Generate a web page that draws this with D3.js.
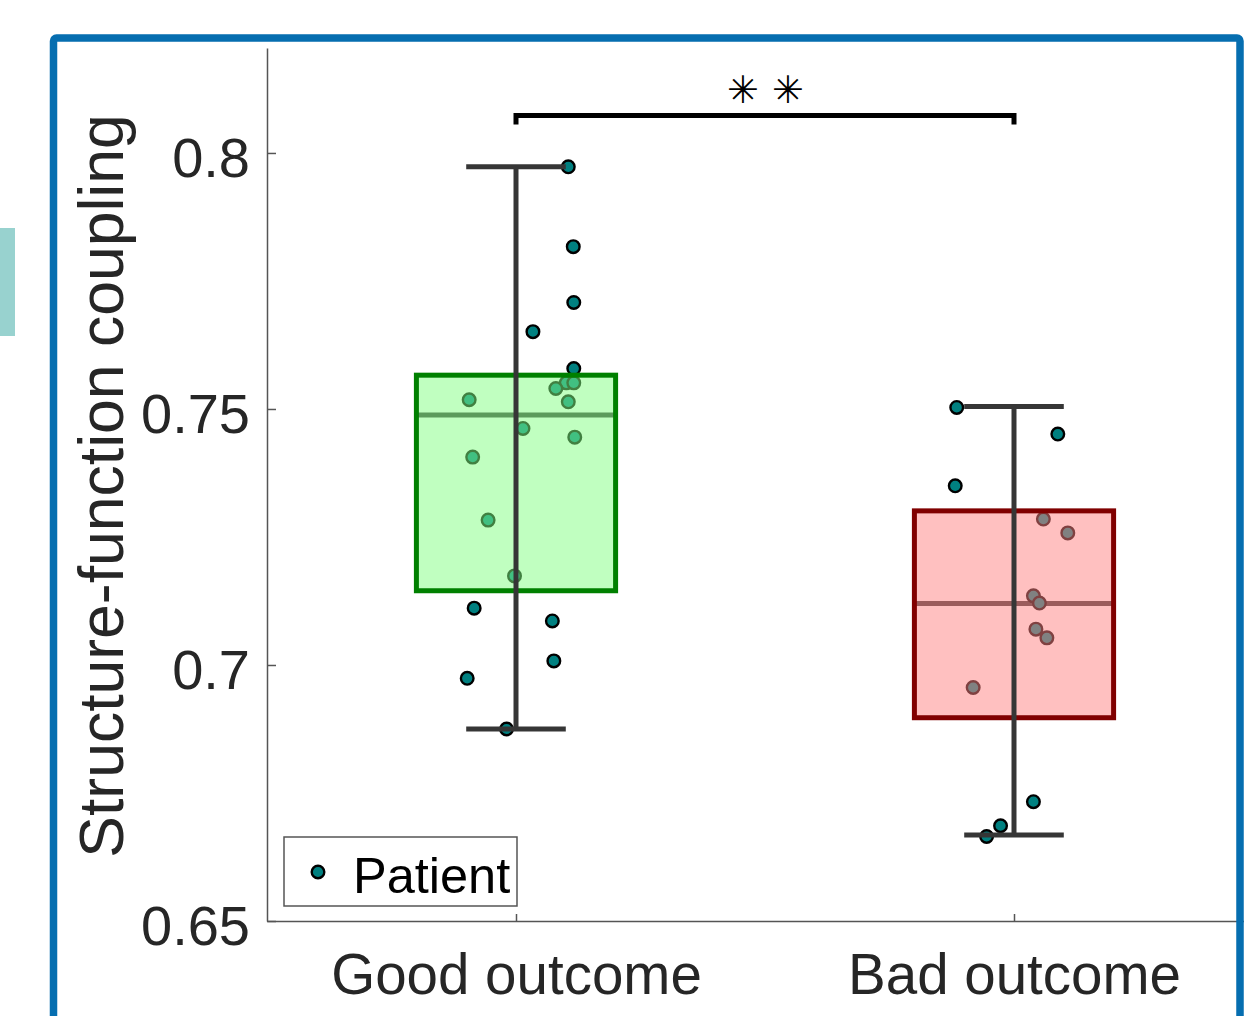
<!DOCTYPE html>
<html>
<head>
<meta charset="utf-8">
<script src="https://cdn.jsdelivr.net/npm/d3@7"></script>
<style>
html,body{margin:0;padding:0;background:#fff;}
svg{display:block;}
text{font-family:"Liberation Sans",Arial,Helvetica,sans-serif;}
</style>
</head>
<body>
<script>
// ---- data ----
const categories = ["Good outcome", "Bad outcome"];
const yTickValues = [0.65, 0.7, 0.75, 0.8];
const yTickLabels = ["0.65", "0.7", "0.75", "0.8"];
const yLabel = "Structure-function coupling";
const legendLabel = "Patient";
const sigLabel = "✳✳";

const goodValues = [0.7973, 0.7817, 0.7708, 0.7651, 0.7579, 0.7551, 0.7551, 0.7540, 0.7514, 0.7518,
                    0.7462, 0.7445, 0.7406, 0.7283, 0.7174, 0.7111, 0.7086, 0.7008, 0.6974, 0.6875];
const goodJitter = [0.105, 0.115, 0.116, 0.034, 0.116, 0.101, 0.116, 0.080, 0.105, -0.094,
                    0.014, 0.118, -0.087, -0.056, -0.003, -0.084, 0.073, 0.076, -0.098, -0.019];
const badValues = [0.7503, 0.7451, 0.7350, 0.7285, 0.7258, 0.7135, 0.7121, 0.7070, 0.7053, 0.6956,
                   0.6733, 0.6686, 0.6665];
const badJitter = [-0.115, 0.088, -0.118, 0.059, 0.108, 0.039, 0.051, 0.044, 0.066, -0.082,
                   0.039, -0.027, -0.055];

// box statistics [q1, median, q3, whiskerLow, whiskerHigh]
const goodStats = [0.7145, 0.7488, 0.7566, 0.6875, 0.7973];
const badStats = [0.6897, 0.7120, 0.7301, 0.6668, 0.7505];

const boxEdgeColors = ["#008000", "#800000"];
const boxFillColors = ["rgb(130,255,130)", "rgb(255,130,130)"];

// ---- layout ----
const W = 1260, H = 1016;
const svg = d3.select("body").append("svg").attr("width", W).attr("height", H);

const x = d3.scaleLinear().domain([0.5, 2.5]).range([267, 1263]);
const y = d3.scaleLinear().domain([0.65, 0.8205]).range([921, 48]);

const axisColor = "#555";
const textColor = "#262626";

// teal side tab
svg.append("rect").attr("x", 0).attr("y", 228).attr("width", 15).attr("height", 108).attr("fill", "#98d2cf");

const g = svg.append("g");

// y axis
const yAxis = d3.axisLeft(y).tickValues(yTickValues).tickFormat((d, i) => yTickLabels[i]).tickSizeInner(-9).tickSizeOuter(0).tickPadding(17);
const ya = g.append("g").attr("transform", `translate(${x(0.5)},0)`).call(yAxis);
ya.select(".domain").attr("stroke", axisColor).attr("stroke-width", 1.5);
ya.selectAll(".tick line").attr("stroke", axisColor).attr("stroke-width", 1.5);
ya.selectAll(".tick text").attr("font-size", 56).attr("fill", textColor).attr("dy", "0.42em");

// x axis
const xAxis = d3.axisBottom(x).tickValues([1, 2]).tickFormat((d) => categories[d - 1]).tickSizeInner(-7).tickSizeOuter(0).tickPadding(33);
const xa = g.append("g").attr("transform", `translate(0,${y(0.65)})`).call(xAxis);
xa.select(".domain").attr("stroke", axisColor).attr("stroke-width", 1.5);
xa.selectAll(".tick line").attr("stroke", axisColor).attr("stroke-width", 1.5);
xa.selectAll(".tick text").attr("font-size", 56.5).attr("fill", textColor).attr("dy", "0.71em");

// y label
g.append("text")
  .attr("transform", `translate(123,${486}) rotate(-90)`)
  .attr("text-anchor", "middle")
  .attr("font-size", 62.5)
  .attr("fill", textColor)
  .text(yLabel);

// groups
const groups = [
  {pos: 1, values: goodValues, jitter: goodJitter, stats: goodStats},
  {pos: 2, values: badValues, jitter: badJitter, stats: badStats}
];
const boxHalf = 0.2, capHalf = 0.1;
const whiskerColor = "#363636";
const pointR = 6.3;

groups.forEach((grp, i) => {
  const [q1, med, q3, lo, hi] = grp.stats;
  const gg = g.append("g");
  // median line (beneath translucent box)
  gg.append("line")
    .attr("x1", x(grp.pos - boxHalf)).attr("x2", x(grp.pos + boxHalf))
    .attr("y1", y(med)).attr("y2", y(med))
    .attr("stroke", whiskerColor).attr("stroke-width", 5);
  // points
  gg.selectAll("circle.pt").data(grp.values).join("circle")
    .attr("class", "pt")
    .attr("cx", (d, j) => x(grp.pos + grp.jitter[j]))
    .attr("cy", d => y(d))
    .attr("r", pointR)
    .attr("fill", "#008080")
    .attr("stroke", "#000")
    .attr("stroke-width", 2.4);
  // box
  gg.append("rect")
    .attr("x", x(grp.pos - boxHalf)).attr("width", x(grp.pos + boxHalf) - x(grp.pos - boxHalf))
    .attr("y", y(q3)).attr("height", y(q1) - y(q3))
    .attr("fill", boxFillColors[i]).attr("fill-opacity", 0.5)
    .attr("stroke", boxEdgeColors[i]).attr("stroke-width", 5);
  // whisker
  gg.append("line")
    .attr("x1", x(grp.pos)).attr("x2", x(grp.pos))
    .attr("y1", y(hi)).attr("y2", y(lo))
    .attr("stroke", whiskerColor).attr("stroke-width", 5);
  [lo, hi].forEach(v => {
    gg.append("line")
      .attr("x1", x(grp.pos - capHalf)).attr("x2", x(grp.pos + capHalf))
      .attr("y1", y(v)).attr("y2", y(v))
      .attr("stroke", whiskerColor).attr("stroke-width", 5);
  });
});

// significance bracket
const bracketY = 0.8073;
g.append("path")
  .attr("d", `M${x(1)},${y(bracketY) + 9}V${y(bracketY)}H${x(2)}V${y(bracketY) + 9}`)
  .attr("fill", "none").attr("stroke", "#000").attr("stroke-width", 5);
g.append("text")
  .attr("x", (x(1) + x(2)) / 2 + 7).attr("y", y(bracketY) - 26)
  .attr("text-anchor", "middle")
  .attr("dominant-baseline", "central")
  .attr("font-family", "DejaVu Sans")
  .attr("font-size", 38)
  .attr("letter-spacing", 13)
  .attr("fill", "#000")
  .text(sigLabel);

// legend
const leg = g.append("g");
leg.append("rect").attr("x", 284).attr("y", 837).attr("width", 233).attr("height", 69)
  .attr("fill", "#fff").attr("stroke", axisColor).attr("stroke-width", 1.5);
leg.append("circle").attr("cx", 318).attr("cy", 872).attr("r", pointR)
  .attr("fill", "#008080").attr("stroke", "#000").attr("stroke-width", 2.4);
leg.append("text").attr("x", 353).attr("y", 893).attr("font-size", 50.5).attr("fill", "#000").text(legendLabel);

// outer frame
svg.append("rect").attr("x", 1244).attr("y", 0).attr("width", 20).attr("height", H).attr("fill", "#fff");
svg.append("rect").attr("x", 53.5).attr("y", 38).attr("width", 1186.5).attr("height", 1100)
  .attr("rx", 3).attr("fill", "none").attr("stroke", "#066eb0").attr("stroke-width", 7.5);
</script>
</body>
</html>
